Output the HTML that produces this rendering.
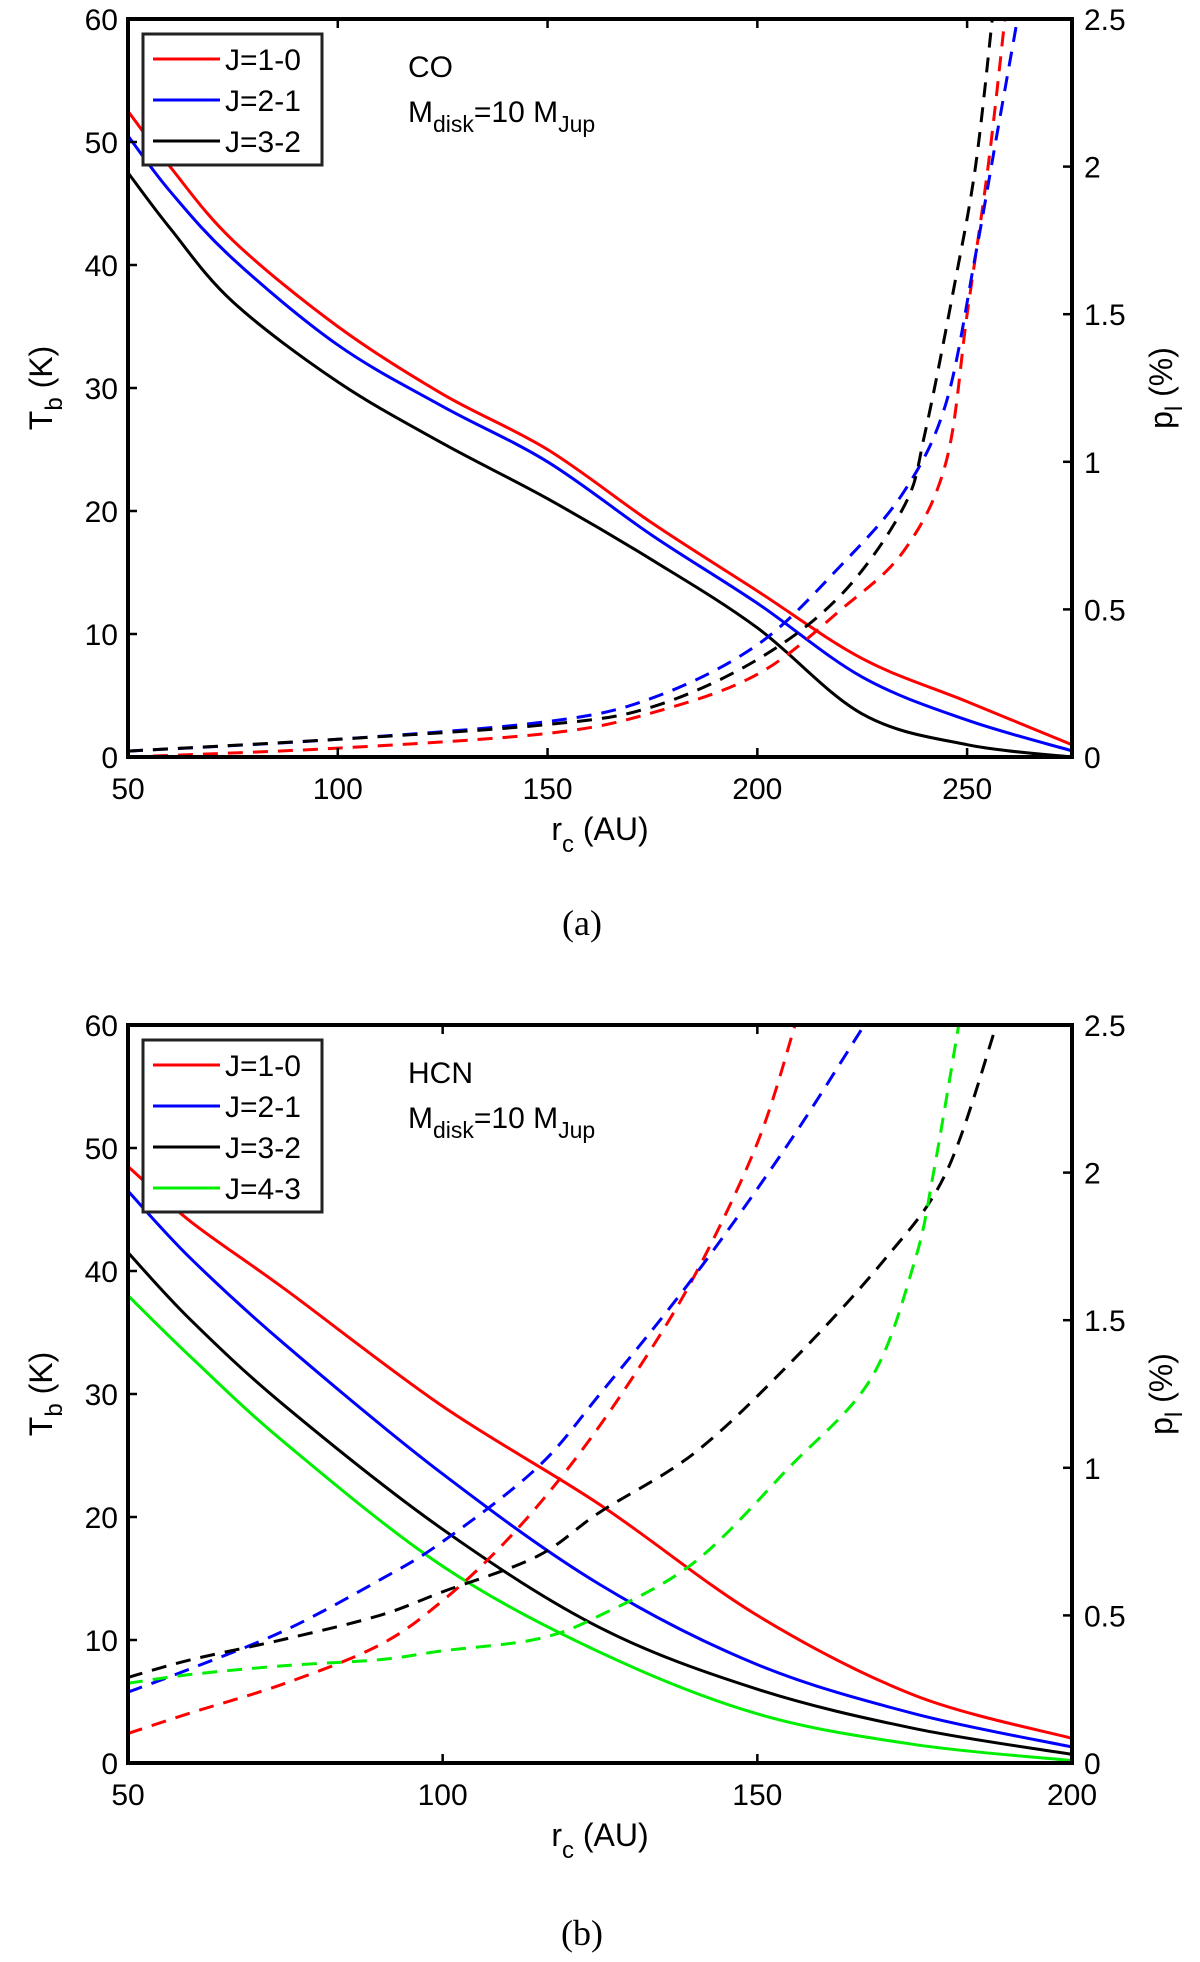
<!DOCTYPE html>
<html><head><meta charset="utf-8"><style>
body{margin:0;background:#fff;}
svg{display:block;font-family:"Liberation Sans",Arial,sans-serif;}
</style></head><body>
<svg id="fig" width="1200" height="1962" viewBox="0 0 1200 1962" xmlns="http://www.w3.org/2000/svg"></svg>
<script>
// Panel (a) CO data
const aX = [50,60,75,100,125,150,175,200,225,250,275];
const aT10 = [52.5,48,42,35,29.5,25,19,13.5,8,4.5,1];
const aT21 = [50.5,46,40.5,33.5,28.5,24,18,12.5,6.5,3,0.5];
const aT32 = [47.5,43,37,30.5,25.5,21,16,10.5,3.5,1,0];
const aPX10 = [50,100,150,175,200,220,235,245,250,255,259];
const aP10 = [0,0.03,0.08,0.15,0.28,0.5,0.7,1.0,1.5,2.0,2.5];
const aPX21 = [50,100,150,175,200,220,235,245,252,257,262];
const aP21 = [0.02,0.06,0.12,0.2,0.38,0.65,0.9,1.2,1.7,2.1,2.5];
const aPX32 = [50,100,150,175,200,220,235,240,247,252,256];
const aP32 = [0.02,0.06,0.11,0.17,0.33,0.55,0.85,1.1,1.6,2.0,2.5];
const aXTicks = [50,100,150,200,250];
// Panel (b) HCN data
const bX = [50,60,75,100,125,150,175,200];
const bT10 = [48.5,44,38.5,29,21,12,5.5,2];
const bT21 = [46.5,41,34,23.5,14.5,8,4,1.3];
const bT32 = [41.5,36,29,19,11,6,2.8,0.7];
const bT43 = [38,33,26,16,9,4,1.5,0.2];
const bPX10 = [50,60,75,90,100,110,120,130,140,150,156];
const bP10 = [0.1,0.17,0.27,0.4,0.55,0.75,1.0,1.3,1.65,2.1,2.5];
const bPX21 = [50,60,75,90,100,115,125,140,155,167];
const bP21 = [0.24,0.32,0.45,0.62,0.75,1.0,1.25,1.65,2.1,2.5];
const bPX32 = [50,60,75,90,100,115,125,140,155,170,180,188];
const bP32 = [0.29,0.35,0.42,0.5,0.58,0.7,0.85,1.05,1.35,1.7,2.0,2.5];
const bPX43 = [50,60,75,90,100,115,125,140,155,168,175,178,182];
const bP43 = [0.27,0.3,0.33,0.35,0.38,0.42,0.5,0.68,1.0,1.3,1.7,2.0,2.5];
const bXTicks = [50,100,150,200];
const tTicks = [0,10,20,30,40,50,60];
const pTicks = [0,0.5,1,1.5,2,2.5];

const NS="http://www.w3.org/2000/svg";
const svg=document.getElementById('fig');
function mk(tag,attrs,parent){const e=document.createElementNS(NS,tag);for(const k in attrs)e.setAttribute(k,attrs[k]);(parent||svg).appendChild(e);return e;}
function txt(x,y,s,size,anchor,parent){const t=mk('text',{x:x,y:y,'font-size':size,'text-anchor':anchor||'start',fill:'#000'},parent);t.innerHTML=s;return t;}
function smooth(pts){
  let d='M'+pts[0][0]+','+pts[0][1];
  for(let i=0;i<pts.length-1;i++){
    const p0=pts[Math.max(i-1,0)],p1=pts[i],p2=pts[i+1],p3=pts[Math.min(i+2,pts.length-1)];
    const c1=[p1[0]+(p2[0]-p0[0])/6,p1[1]+(p2[1]-p0[1])/6];
    const c2=[p2[0]-(p3[0]-p1[0])/6,p2[1]-(p3[1]-p1[1])/6];
    d+=' C'+c1[0]+','+c1[1]+' '+c2[0]+','+c2[1]+' '+p2[0]+','+p2[1];
  }
  return d;
}

function panel(id,L,R,T,B,xmin,xmax,xticks,solids,dashes,legend,title,cap){
  const g=mk('g',{});
  
  
  const sx=v=>L+(v-xmin)/(xmax-xmin)*(R-L);
  const sy=v=>B-v/60*(B-T);
  const sp=v=>B-v/2.5*(B-T);
  const cp=mk('clipPath',{id:'clip'+id},g);
  mk('rect',{x:L,y:T,width:R-L,height:B-T},cp);
  const lines=mk('g',{'clip-path':'url(#clip'+id+')'},g);
  solids.forEach(s=>{const p=mk('path',{d:smooth(s.x.map((v,i)=>[sx(v),sy(s.y[i])])),fill:'none',stroke:s.c,'stroke-width':3},lines);
    });
  dashes.forEach(s=>{const p=mk('path',{d:smooth(s.x.map((v,i)=>[sx(v),sp(s.y[i])])),fill:'none',stroke:s.c,'stroke-width':3,'stroke-dasharray':'15 10'},lines);
    });
  const ax=mk('rect',{x:L,y:T,width:R-L,height:B-T,fill:'none',stroke:'#000','stroke-width':4},g);
  
  xticks.forEach(v=>{mk('line',{x1:sx(v),x2:sx(v),y1:B,y2:B-9,stroke:'#000','stroke-width':2.5},g);mk('line',{x1:sx(v),x2:sx(v),y1:T,y2:T+9,stroke:'#000','stroke-width':2.5},g);
    const t=txt(sx(v),B+42,v,30,'middle',g);});
  tTicks.forEach(v=>{mk('line',{x1:L,x2:L+9,y1:sy(v),y2:sy(v),stroke:'#000','stroke-width':2.5},g);
    const t=txt(L-10,sy(v)+11,v,30,'end',g);});
  pTicks.forEach(v=>{mk('line',{x1:R,x2:R-9,y1:sp(v),y2:sp(v),stroke:'#000','stroke-width':2.5},g);
    const t=txt(R+12,sp(v)+11,v,30,'start',g);});
  const xl=txt((L+R)/2,B+83,'r<tspan font-size="24" dy="12">c</tspan><tspan dy="-12"> (AU)</tspan>',32,'middle',g);
  
  const yl=txt(0,0,'T<tspan font-size="24" dy="10">b</tspan><tspan dy="-10"> (K)</tspan>',32,'middle',g);
  yl.setAttribute('transform','translate(52,'+((T+B)/2)+') rotate(-90)');
  
  const yr=txt(0,0,'p<tspan font-size="24" dy="10">l</tspan><tspan dy="-10"> (%)</tspan>',32,'middle',g);
  yr.setAttribute('transform','translate(1172,'+((T+B)/2)+') rotate(-90)');
  
  const lg=mk('g',{},g);
  mk('rect',{x:143,y:T+15,width:179,height:legend.length*41+8,fill:'#fff',stroke:'#222','stroke-width':3},lg);
  legend.forEach((e,i)=>{const yy=T+15+25+i*41;mk('line',{x1:153,x2:220,y1:yy,y2:yy,stroke:e.c,'stroke-width':3},lg);
    const t=txt(225,yy+11,e.n,30,'start',lg);});
  const t1=txt(408,T+58,title,30,'start',g);
  const t2=txt(408,T+103,'M<tspan font-size="23" dy="10">disk</tspan><tspan dy="-10">=10 M</tspan><tspan font-size="23" dy="10">Jup</tspan>',30,'start',g);
  
  const c=txt((L+R)/2-18,cap,'('+id+')',36,'middle',g);c.setAttribute('font-family','Liberation Serif,serif');
  
}
panel('a',128,1072,19,757,50,275,aXTicks,
 [{x:aX,y:aT10,c:'#ff0000',n:'j10'},{x:aX,y:aT21,c:'#0000ff',n:'j21'},{x:aX,y:aT32,c:'#000',n:'j32'}],
 [{x:aPX10,y:aP10,c:'#ff0000',n:'j10'},{x:aPX21,y:aP21,c:'#0000ff',n:'j21'},{x:aPX32,y:aP32,c:'#000',n:'j32'}],
 [{n:'J=1-0',c:'#ff0000'},{n:'J=2-1',c:'#0000ff'},{n:'J=3-2',c:'#000'}],'CO',935);
panel('b',128,1072,1025,1763,50,200,bXTicks,
 [{x:bX,y:bT10,c:'#ff0000',n:'j10'},{x:bX,y:bT21,c:'#0000ff',n:'j21'},{x:bX,y:bT32,c:'#000',n:'j32'},{x:bX,y:bT43,c:'#00ee00',n:'j43'}],
 [{x:bPX10,y:bP10,c:'#ff0000',n:'j10'},{x:bPX21,y:bP21,c:'#0000ff',n:'j21'},{x:bPX32,y:bP32,c:'#000',n:'j32'},{x:bPX43,y:bP43,c:'#00ee00',n:'j43'}],
 [{n:'J=1-0',c:'#ff0000'},{n:'J=2-1',c:'#0000ff'},{n:'J=3-2',c:'#000'},{n:'J=4-3',c:'#00ee00'}],'HCN',1945);
</script>
</body></html>
